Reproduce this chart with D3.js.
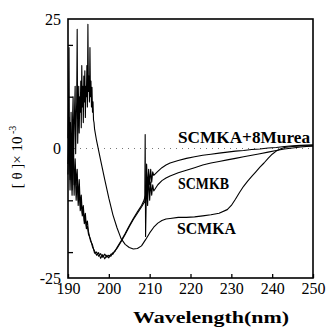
<!DOCTYPE html>
<html><head><meta charset="utf-8">
<script src="https://cdn.jsdelivr.net/npm/d3@7"></script>
<style>body{margin:0;background:#fff}svg{display:block}svg text{font-family:"Liberation Serif","DejaVu Serif",serif !important;fill:#000}</style>
</head><body><svg id="c" width="326" height="327"></svg>
<script>
const xTicks = [190, 200, 210, 220, 230, 240, 250];
const yLabelTicks = [-25, 0, 25];
const yMinorTicks = [-20, -10, 0, 10, 20];
const seriesNames = ["SCMKA", "SCMKB", "SCMKA+8Murea"];

const scmkaWl = [190,190.125,190.25,190.375,190.5,190.625,190.75,190.875,191,191.125,191.25,191.375,191.5,191.625,191.75,191.875,192,192.125,192.25,192.375,192.5,192.625,192.75,192.875,193,193.125,193.25,193.375,193.5,193.625,193.75,193.875,194,194.125,194.25,194.375,194.5,194.625,194.75,194.875,195,195.125,195.25,195.375,195.5,195.625,195.75,195.875,196,196.125,196.25,196.375,196.5,197,198,199,200,201,202,203,204,205,206,207,208,209,210,211,212,213,214,215,217,219,221,223,225,227,229,230,231,232,233,234,235,236,237,238,239,240,241,242,243,245,247,250];
const scmkaVal = [2,8,19.5,-3,5,-5,7,0,-6,6,10,-2,3,8,12,-1,5,9,23,1,6,12,3,10,7,13,4,16,8,12,5,14,9,15,6,12,10,16,8,24,11,14,9,19.5,10,13,8,11.8,7,9,5.5,5,3.8,1.5,-2.3,-6,-9.6,-12.8,-15.3,-17.4,-18.5,-19.1,-19.4,-19.3,-18.8,-17.6,-16.3,-15.2,-14.4,-13.9,-13.6,-13.5,-13.3,-13.3,-13.2,-13.0,-12.8,-12.5,-11.8,-11.0,-9.8,-8.5,-7.3,-6.3,-5.4,-4.5,-3.6,-2.8,-1.9,-1.1,-0.5,-0.1,0.2,0.4,0.5,0.5];

const scmkbWl = [190,190.25,190.5,190.75,191,191.25,191.5,191.75,192,192.25,192.5,192.75,193,193.25,193.5,193.75,194,194.25,194.5,194.75,195,195.5,196,196.5,197,197.5,198,198.5,199,199.5,200,200.5,201,201.5,202,203,204,205,206,207,208,208.5,208.8,208.9,209,209.25,209.5,209.75,210,210.25,210.5,210.75,211,212,213,214,215,217,219,221,223,225,227,229,231,233,235,237,239,241,243,245,247,250];
const scmkbVal = [-5,3,-8,-1,-9,1,-7,-4,-10,-6,-11,-8,-12,-10.5,-13,-12,-14.5,-13.5,-15.5,-15,-16.5,-17.5,-19,-19.8,-20.6,-20.1,-21.2,-20.5,-21.3,-20.6,-21.1,-20.4,-20.4,-19.7,-19.3,-18,-16.6,-15.1,-13.7,-12.5,-11.3,-10.6,-10.3,2.7,-17,-6,-11,-5,-10,-6.5,-9,-7,-8.2,-7.0,-6.2,-5.7,-5.3,-4.7,-4.2,-3.7,-3.2,-2.8,-2.5,-2.2,-1.9,-1.6,-1.3,-1.0,-0.7,-0.4,-0.1,0.1,0.3,0.5];

const mureaWl = [190,190.25,190.5,190.75,191,191.25,191.5,191.75,192,192.25,192.5,192.75,193,193.25,193.5,193.75,194,194.25,194.5,194.75,195,195.5,196,196.5,197,197.5,198,198.5,199,199.5,200,200.5,201,201.5,202,203,204,205,206,207,208,208.5,209,209.25,209.5,209.75,210,210.25,210.5,210.75,211,212,213,214,215,217,219,221,223,225,227,229,231,233,235,237,239,241,243,245,247,250];
const mureaVal = [-3,6,-6,2,-8,4,-9,-2,-7,-4,-10,-6,-11,-9,-12.5,-11,-14,-12.5,-15,-14,-16,-17.8,-18.6,-20.2,-20,-20.8,-20.3,-21,-20.4,-21,-20.6,-20.8,-20.1,-19.9,-19.1,-17.8,-16.4,-14.9,-13.5,-12.2,-11,-10.2,-9,-3,-8,-4,-7,-4,-6.5,-4.5,-5.2,-4.4,-3.7,-3.2,-2.8,-2.3,-1.9,-1.6,-1.3,-1.1,-0.9,-0.7,-0.5,-0.4,-0.2,-0.1,0.1,0.2,0.4,0.5,0.6,0.7];

const SERIF = '"Liberation Serif","DejaVu Serif",serif';
const svg = d3.select("#c");
const x = d3.scaleLinear().domain([190, 250]).range([68, 313]);
const y = d3.scaleLinear().domain([-25, 25]).range([278, 19]);

// zero dotted line
svg.append("line").attr("x1", x(190)).attr("x2", x(250)).attr("y1", y(0)).attr("y2", y(0))
  .attr("stroke", "#777").attr("stroke-width", 1).attr("stroke-dasharray", "1,5");

const line = d3.line().x(d => x(d[0])).y(d => y(d[1]));
const series = [
  [scmkaWl, scmkaVal],
  [scmkbWl, scmkbVal],
  [mureaWl, mureaVal]
];
series.forEach(([wl, v]) => {
  svg.append("path").datum(wl.map((w, i) => [w, v[i]]))
    .attr("fill", "none").attr("stroke", "#000").attr("stroke-width", 1.1)
    .attr("stroke-linejoin", "round").attr("d", line);
});

// frame
svg.append("rect").attr("x", x(190)).attr("y", y(25)).attr("width", x(250) - x(190)).attr("height", y(-25) - y(25))
  .attr("fill", "none").attr("stroke", "#000").attr("stroke-width", 1.6);

// bottom axis
const gx = svg.append("g").attr("transform", `translate(0,${y(-25)})`)
  .call(d3.axisBottom(x).tickValues(xTicks).tickSizeInner(-4).tickSizeOuter(0).tickPadding(5).tickFormat(d => String(d)));
gx.attr("font-family", SERIF);
gx.select(".domain").remove();
gx.selectAll("line").attr("stroke-width", 1.3);
gx.selectAll("text").attr("font-size", 16).style("font-family", SERIF);

// left axis
const gy = svg.append("g").attr("transform", `translate(${x(190)},0)`)
  .call(d3.axisLeft(y).tickValues(yLabelTicks).tickSize(0).tickPadding(7).tickFormat(d => String(d)));
gy.attr("font-family", SERIF);
gy.select(".domain").remove();
gy.selectAll("text").attr("font-size", 16).style("font-family", SERIF);
const gy2 = svg.append("g").attr("transform", `translate(${x(190)},0)`)
  .call(d3.axisLeft(y).tickValues(yMinorTicks).tickSizeInner(-5).tickSizeOuter(0).tickFormat(""));
gy2.select(".domain").remove();
gy2.selectAll("line").attr("stroke-width", 1.3);

// axis titles
svg.append("text").attr("x", 211).attr("y", 323).attr("text-anchor", "middle").style("font-family", SERIF)
  .attr("font-size", 16).attr("font-weight", "bold").attr("textLength", 156).attr("lengthAdjust", "spacingAndGlyphs")
  .text("Wavelength(nm)");
const yt = svg.append("text").attr("transform", "translate(22,157) rotate(-90)").attr("text-anchor", "middle")
  .style("font-family", SERIF).attr("font-size", 15);
yt.append("tspan").text("[ θ ]×  10");
yt.append("tspan").attr("dy", -6).attr("font-size", 10).text(" -3");

// series labels
const labels = [
  {t: seriesNames[2], x: 178, y: 143, w: 132},
  {t: seriesNames[1], x: 178, y: 189, w: 51},
  {t: seriesNames[0], x: 177, y: 234, w: 59}
];
labels.forEach(l => {
  svg.append("text").attr("x", l.x).attr("y", l.y).style("font-family", SERIF).attr("font-size", 16).attr("font-weight", "bold")
    .attr("textLength", l.w).attr("lengthAdjust", "spacingAndGlyphs").text(l.t);
});
</script></body></html>
